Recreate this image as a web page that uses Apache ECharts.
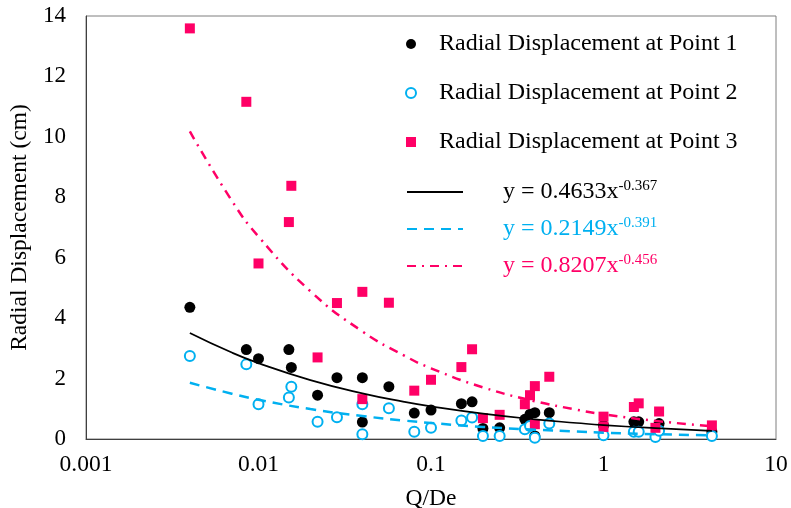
<!DOCTYPE html>
<html>
<head>
<meta charset="utf-8">
<script src="https://cdn.jsdelivr.net/npm/echarts@6/dist/echarts.min.js"></script>
<style>
  html, body { margin: 0; padding: 0; background: #fff; }
  #chart { width: 791px; height: 508px; }
</style>
</head>
<body>
<div id="chart"></div>
<script>
// measured points, Q/De vs radial displacement (cm)
const p1X = [0.004, 0.0085, 0.01, 0.015, 0.0155, 0.022, 0.0285, 0.04, 0.04, 0.057, 0.08, 0.1, 0.15, 0.173, 0.2, 0.25, 0.35, 0.375, 0.4, 0.4, 0.485, 1.0, 1.5, 1.6, 2.1, 4.25];
const p1Y = [4.36, 2.96, 2.66, 2.96, 2.37, 1.45, 2.03, 2.03, 0.56, 1.73, 0.86, 0.96, 1.17, 1.23, 0.35, 0.37, 0.65, 0.82, 0.87, 0.10, 0.87, 0.45, 0.57, 0.57, 0.51, 0.24];

const p2X = [0.004, 0.0085, 0.01, 0.0155, 0.015, 0.022, 0.0285, 0.04, 0.04, 0.057, 0.08, 0.1, 0.15, 0.173, 0.2, 0.25, 0.35, 0.375, 0.4, 0.485, 1.0, 1.5, 1.6, 2.0, 2.1, 4.25];
const p2Y = [2.75, 2.47, 1.15, 1.73, 1.37, 0.57, 0.72, 1.15, 0.16, 1.02, 0.24, 0.37, 0.61, 0.71, 0.10, 0.10, 0.32, 0.43, 0.04, 0.51, 0.12, 0.24, 0.24, 0.07, 0.27, 0.10];

const p3X = [0.004, 0.0085, 0.0155, 0.015, 0.01, 0.0285, 0.04, 0.057, 0.022, 0.04, 0.08, 0.1, 0.15, 0.173, 0.2, 0.25, 0.35, 0.375, 0.4, 0.485, 0.4, 1.0, 1.0, 1.5, 1.6, 2.1, 2.0, 4.25];
const p3Y = [13.59, 11.16, 8.38, 7.18, 5.81, 4.50, 4.87, 4.51, 2.70, 1.32, 1.60, 1.96, 2.38, 2.97, 0.69, 0.80, 1.15, 1.45, 1.75, 2.06, 0.49, 0.74, 0.40, 1.06, 1.18, 0.91, 0.37, 0.45];

// power trendlines
const fitX = [0.004, 0.007, 0.01, 0.02, 0.04, 0.07, 0.1, 0.2, 0.4, 0.7, 1, 2, 4.25];
const fit1Y = [3.51, 2.86, 2.51, 1.95, 1.51, 1.23, 1.08, 0.84, 0.65, 0.53, 0.46, 0.36, 0.27];
const fit2Y = [1.86, 1.50, 1.30, 0.99, 0.76, 0.61, 0.53, 0.40, 0.31, 0.25, 0.21, 0.16, 0.12];
const fit3Y = [10.18, 7.89, 6.70, 4.89, 3.56, 2.76, 2.34, 1.71, 1.25, 0.97, 0.82, 0.60, 0.42];

const yTicks = [0, 2, 4, 6, 8, 10, 12, 14];

const pointNames = ['Radial Displacement at Point 1', 'Radial Displacement at Point 2', 'Radial Displacement at Point 3'];
const fitNames = ['fit1', 'fit2', 'fit3'];
const fitLabels = {
  fit1: '{k|y = 0.4633x}{ks|-0.367}',
  fit2: '{b|y = 0.2149x}{bs|-0.391}',
  fit3: '{p|y = 0.8207x}{ps|-0.456}'
};

const BLACK = '#000000', BLUE = '#00B0F0', PINK = '#FF0066';
const FONT = 'Liberation Serif';

function zip(xs, ys) {
  let out = [];
  for (let i = 0; i < xs.length; i++) out.push([xs[i], ys[i]]);
  return out;
}

const chart = echarts.init(document.getElementById('chart'));

chart.setOption({
  animation: false,
  backgroundColor: '#fff',
  grid: {
    left: 86, right: 15, top: 16, bottom: 69,
    outerBoundsMode: 'none', containLabel: false,
    show: true, borderColor: '#7f7f7f', borderWidth: 1
  },
  textStyle: { fontFamily: FONT },
  xAxis: {
    type: 'log', logBase: 10, min: 0.001, max: 10,
    name: 'Q/De', nameLocation: 'middle', nameGap: 48,
    nameTextStyle: { fontFamily: FONT, fontSize: 23.5, color: '#000' },
    axisLine: { lineStyle: { color: '#404040', width: 1 } },
    axisTick: { show: false },
    splitLine: { show: false },
    axisLabel: {
      fontFamily: FONT, fontSize: 23.5, color: '#000', margin: 14,
      formatter: v => String(Number(v.toPrecision(3)))
    }
  },
  yAxis: {
    type: 'value', min: yTicks[0], max: yTicks[yTicks.length - 1], interval: 2,
    name: 'Radial Displacement (cm)', nameLocation: 'middle', nameGap: 50,
    nameTextStyle: { fontFamily: FONT, fontSize: 23.5, color: '#000' },
    axisLine: { show: true, lineStyle: { color: '#404040', width: 1 } },
    axisTick: { show: false },
    splitLine: { show: false },
    axisLabel: { fontFamily: FONT, fontSize: 23, color: '#000', margin: 20 }
  },
  legend: [
    {
      data: pointNames, orient: 'vertical', left: 400, top: 26,
      itemWidth: 10, itemHeight: 10, itemGap: 23,
      textStyle: { fontFamily: FONT, fontSize: 24, color: '#000', lineHeight: 26, padding: [0, 0, 0, 18] }
    },
    {
      data: fitNames.map(n => ({ name: n })),
      orient: 'vertical', left: 401, top: 173,
      itemWidth: 56, itemHeight: 14, itemGap: 9,
      itemStyle: { opacity: 0 },
      formatter: n => fitLabels[n],
      textStyle: {
        fontFamily: FONT, fontSize: 24, lineHeight: 28, padding: [0, 0, 0, 35],
        rich: {
          k: { fontFamily: FONT, fontSize: 24, color: BLACK },
          ks: { fontFamily: FONT, fontSize: 15, color: BLACK, padding: [0, 0, 12, 0] },
          b: { fontFamily: FONT, fontSize: 24, color: BLUE },
          bs: { fontFamily: FONT, fontSize: 15, color: BLUE, padding: [0, 0, 12, 0] },
          p: { fontFamily: FONT, fontSize: 24, color: PINK },
          ps: { fontFamily: FONT, fontSize: 15, color: PINK, padding: [0, 0, 12, 0] }
        }
      }
    }
  ],
  series: [
    {
      name: pointNames[0], type: 'scatter', symbol: 'circle', symbolSize: 11,
      itemStyle: { color: BLACK, opacity: 1 },
      data: zip(p1X, p1Y)
    },
    {
      name: pointNames[1], type: 'scatter', symbol: 'circle', symbolSize: 10,
      itemStyle: { color: '#fff', borderColor: BLUE, borderWidth: 2, opacity: 1 },
      data: zip(p2X, p2Y)
    },
    {
      name: pointNames[2], type: 'scatter', symbol: 'rect', symbolSize: 10,
      itemStyle: { color: PINK, opacity: 1 },
      data: zip(p3X, p3Y)
    },
    {
      name: 'fit1', type: 'line', smooth: true, symbol: 'none',
      lineStyle: { color: BLACK, width: 1.7, type: 'solid' },
      itemStyle: { color: BLACK },
      data: zip(fitX, fit1Y)
    },
    {
      name: 'fit2', type: 'line', smooth: true, symbol: 'none',
      lineStyle: { color: BLUE, width: 2.5, type: [10, 7] },
      itemStyle: { color: BLUE },
      data: zip(fitX, fit2Y)
    },
    {
      name: 'fit3', type: 'line', smooth: true, symbol: 'none',
      lineStyle: { color: PINK, width: 2.5, type: [9, 6, 2, 6] },
      itemStyle: { color: PINK },
      data: zip(fitX, fit3Y)
    }
  ]
});
</script>
</body>
</html>
